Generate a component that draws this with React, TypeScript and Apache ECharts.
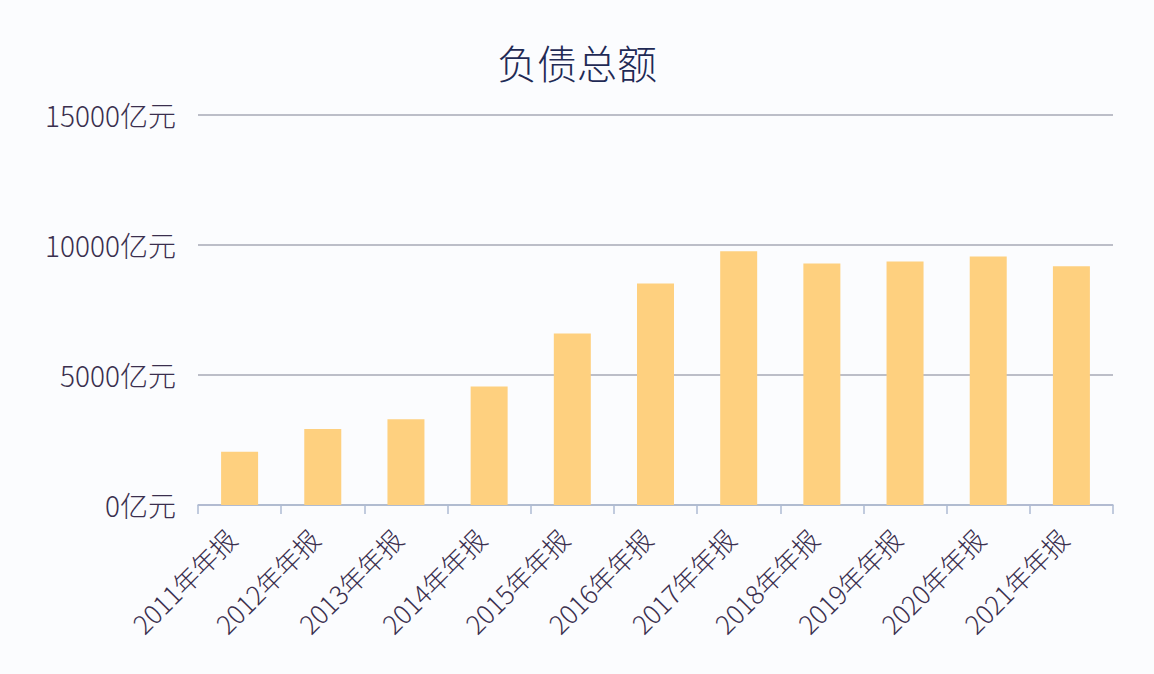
import React, { useEffect, useRef } from "react";
import * as echarts from "echarts";

const categories = [
  "2011年年报", "2012年年报", "2013年年报", "2014年年报", "2015年年报", "2016年年报",
  "2017年年报", "2018年年报", "2019年年报", "2020年年报", "2021年年报",
];
const debtValues = [2050, 2920, 3300, 4560, 6600, 8520, 9760, 9290, 9370, 9560, 9180];
const yTicks = [0, 5000, 10000, 15000];

const FONT = "'Noto Sans CJK SC', 'Noto Sans', sans-serif";

export default function App() {
  const ref = useRef<HTMLDivElement>(null);
  useEffect(() => {
    if (!ref.current) return;
    const chart = echarts.init(ref.current, null, { renderer: "svg" });
    chart.setOption({
      animation: false,
      backgroundColor: "#fbfcfe",
      title: {
        text: "负债总额",
        left: "center",
        top: 37,
        textStyle: { fontFamily: FONT, fontSize: 40, fontWeight: 300, color: "#1f2a55" },
      },
      grid: { left: 198, right: 41, top: 115, bottom: 169, containLabel: false },
      xAxis: {
        type: "category",
        data: categories,
        axisLine: { lineStyle: { color: "#aebbd3", width: 1.5 } },
        axisTick: { show: true, length: 9, lineStyle: { color: "#aebbd3", width: 1.5 } },
        axisLabel: {
          rotate: 45,
          margin: 20,
          padding: [0, 12, 0, 0],
          fontFamily: FONT,
          fontSize: 26,
          fontWeight: 300,
          color: "#3a2f4e",
        },
      },
      yAxis: {
        type: "value",
        min: yTicks[0],
        max: yTicks[yTicks.length - 1],
        interval: yTicks[1] - yTicks[0],
        axisLine: { show: false },
        axisTick: { show: false },
        splitLine: { lineStyle: { color: "#a7aab6", width: 1.5 } },
        axisLabel: {
          margin: 22,
          fontFamily: FONT,
          fontSize: 28,
          fontWeight: 300,
          color: "#3a2f4e",
          formatter: (v: number) => `${v}亿元`,
        },
      },
      series: [
        {
          type: "bar",
          data: debtValues,
          barWidth: 37,
          itemStyle: { color: "#fed07f" },
        },
      ],
    });
    return () => chart.dispose();
  }, []);
  return (
    <div
      ref={ref}
      style={{ position: "fixed", left: 0, top: 0, width: 1154, height: 674 }}
    />
  );
}
